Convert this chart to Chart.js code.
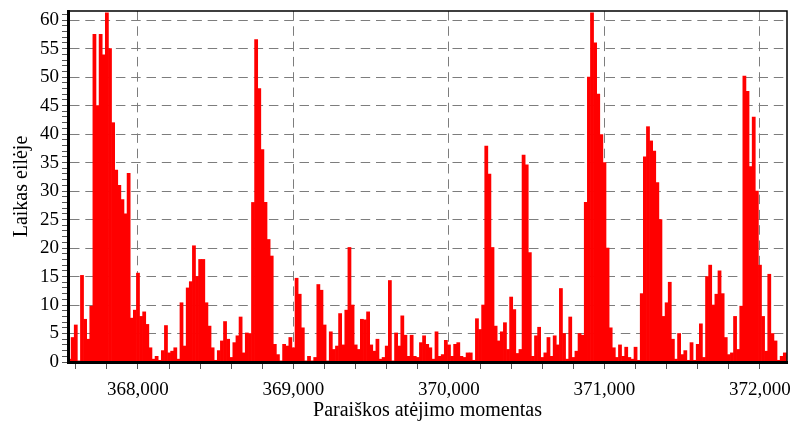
<!DOCTYPE html>
<html>
<head>
<meta charset="utf-8">
<script src="https://cdn.jsdelivr.net/npm/chart.js@4.4.1/dist/chart.umd.min.js"></script>
<style>
  html, body { margin: 0; padding: 0; background: #ffffff; }
  #wrap { width: 794px; height: 423px; }
</style>
</head>
<body>
<div id="wrap"><canvas id="c" width="794" height="423"></canvas></div>
<script>
// Arrival moments (x, centre of each bar)
const arrivalMoments = [
  367560,367580,367600,367620,367640,367660,367680,367700,367720,367740,
  367760,367780,367800,367820,367840,367860,367880,367900,367920,367940,
  367960,367980,368000,368020,368040,368060,368080,368100,368120,368140,
  368160,368180,368200,368220,368240,368260,368280,368300,368320,368340,
  368360,368380,368400,368420,368440,368460,368480,368500,368520,368540,
  368560,368580,368600,368620,368640,368660,368680,368700,368720,368740,
  368760,368780,368800,368820,368840,368860,368880,368900,368920,368940,
  368960,368980,369000,369020,369040,369060,369080,369100,369120,369140,
  369160,369180,369200,369220,369240,369260,369280,369300,369320,369340,
  369360,369380,369400,369420,369440,369460,369480,369500,369520,369540,
  369560,369580,369600,369620,369640,369660,369680,369700,369720,369740,
  369760,369780,369800,369820,369840,369860,369880,369900,369920,369940,
  369960,369980,370000,370020,370040,370060,370080,370100,370120,370140,
  370160,370180,370200,370220,370240,370260,370280,370300,370320,370340,
  370360,370380,370400,370420,370440,370460,370480,370500,370520,370540,
  370560,370580,370600,370620,370640,370660,370680,370700,370720,370740,
  370760,370780,370800,370820,370840,370860,370880,370900,370920,370940,
  370960,370980,371000,371020,371040,371060,371080,371100,371120,371140,
  371160,371180,371200,371220,371240,371260,371280,371300,371320,371340,
  371360,371380,371400,371420,371440,371460,371480,371500,371520,371540,
  371560,371580,371600,371620,371640,371660,371680,371700,371720,371740,
  371760,371780,371800,371820,371840,371860,371880,371900,371920,371940,
  371960,371980,372000,372020,372040,372060,372080,372100,372120,372140,
  372160
];

// Time in queue (y)
const queueTime = [
  0.5,4.3,6.5,0.2,15.2,7.5,4.0,9.8,57.5,45,
  57.5,53.9,61.3,55,42,33.7,31,28.5,26,33.1,
  7.7,9.1,15.6,8,8.8,6.6,2.5,0.5,1.0,0.3,
  2,6.4,1.6,1.9,2.5,0.5,10.4,2.8,13.0,14.1,
  20.4,15,18.0,18,10.4,6.3,2.5,0.3,2,3.7,
  7.1,4,0.8,3.4,4.6,7.9,1.6,5.1,5,28.0,
  56.6,48,37.3,28,21.5,18.6,3.1,1.3,0.2,3.1,
  2.8,4.3,2.5,14.7,11.9,6.0,0.2,1.0,0.2,0.8,
  13.6,12.6,6.5,0.2,5.3,2.2,2.8,8.5,3,9.1,
  20.1,10,3,2.2,7.5,7.4,8.8,3,1.9,4.0,
  0.5,0.8,2.8,14.3,0.2,5.1,2.8,8.1,4.7,1.0,
  4.7,1.0,0.8,3.4,4.6,3.1,2.5,0.5,5.3,1.0,
  1.3,3.8,3,1.0,3.1,3.4,1,0.8,1.6,1.6,
  0.3,7.6,5.7,10,37.9,33,20.1,6.3,3.7,5.3,
  6.9,2.2,11.4,9.2,1.5,2.2,36.3,34.6,19.2,1.0,
  4.6,6.1,0.8,1.6,4.3,1.0,4.6,3,12.9,5,
  0.5,7.9,0.8,1.9,5,4.7,28,50,61.3,56,
  47,39.9,35,20,6,2.5,0.8,3,1.0,2.6,
  0.8,0.5,2.6,0.3,12,36,41.3,38.8,37,31.5,
  25,8,10.4,14,4,0.5,5,1.3,2,0.3,
  3.4,0.3,3.1,6.7,0.8,15,17,10,11.9,16,
  12,4.3,1.3,1.6,8,2.2,9.8,50.2,47.5,34.3,
  43,30,17,8,1.9,15.4,5,3.7,0.3,1.0,
  1.6
];

const xMajorTicks = [368000, 369000, 370000, 371000, 372000];
const yMajorTicks = [0, 5, 10, 15, 20, 25, 30, 35, 40, 45, 50, 55, 60];
const xTitle = 'Paraiškos atėjimo momentas';
const yTitle = 'Laikas eilėje';

const points = arrivalMoments.map((x, i) => ({ x: x, y: queueTime[i] }));

const SERIF = "'Liberation Serif', 'Times New Roman', serif";
const GRID = '#7d7d7d';
const findMajor = (list, v) => list.find(m => Math.abs(m - v) < 1e-3);

const framePlugin = {
  id: 'frame',
  afterDraw(chart) {
    const { ctx, chartArea: a } = chart;
    ctx.save();
    ctx.strokeStyle = '#000';
    ctx.lineWidth = 1.5;
    ctx.beginPath();
    ctx.moveTo(a.left, a.top);
    ctx.lineTo(a.right, a.top);
    ctx.lineTo(a.right, a.bottom);
    ctx.stroke();
    ctx.restore();
  }
};

new Chart(document.getElementById('c'), {
  type: 'bar',
  data: {
    datasets: [{
      data: points,
      backgroundColor: '#ff0000',
      borderWidth: 0,
      barPercentage: 1,
      categoryPercentage: 1
    }]
  },
  options: {
    responsive: false,
    animation: false,
    layout: { padding: { top: 11, right: 7, left: 0, bottom: 0 } },
    plugins: { legend: { display: false }, tooltip: { enabled: false } },
    scales: {
      x: {
        type: 'linear',
        min: 367550,
        max: 372174,
        offset: false,
        afterFit(scale) {
          scale.height = 61;
          scale.paddingLeft = 0;
          scale.paddingRight = 0;
        },
        afterBuildTicks(scale) {
          // minor ticks every 200, major (labelled) every 1000
          const t = [];
          for (let v = 367600; v <= scale.max; v += 200) t.push({ value: v });
          scale.ticks = t;
        },
        grid: {
          offset: false,
          color: c => (c.tick && findMajor(xMajorTicks, c.tick.value) !== undefined) ? GRID : 'rgba(0,0,0,0)',
          lineWidth: 1,
          tickColor: '#555',
          tickLength: 7,
          tickWidth: 1
        },
        border: { display: true, color: '#000', width: 3, dash: [9.5, 5.8], z: 1 },
        ticks: {
          autoSkip: false,
          maxRotation: 0,
          minRotation: 0,
          padding: 10,
          color: '#000',
          font: { family: SERIF, size: 19 },
          callback: v => {
            const m = findMajor(xMajorTicks, v);
            return m !== undefined ? m.toLocaleString('en-US') : '';
          }
        },
        title: {
          display: true,
          text: xTitle,
          color: '#000',
          font: { family: SERIF, size: 20 },
          padding: { top: 0, bottom: 0 }
        }
      },
      y: {
        min: 0,
        max: 61.6,
        afterFit(scale) {
          scale.width = 68;
          scale.paddingTop = 0;
          scale.paddingBottom = 0;
        },
        grid: {
          color: c => (c.tick && findMajor(yMajorTicks, c.tick.value) !== undefined) ? GRID : 'rgba(0,0,0,0)',
          lineWidth: 1,
          tickColor: '#555',
          tickLength: 6,
          tickWidth: 1
        },
        border: { display: true, color: '#000', width: 3, dash: [9.5, 5.8], z: 1 },
        ticks: {
          stepSize: 1,
          autoSkip: false,
          includeBounds: false,
          padding: 3,
          color: '#000',
          font: { family: SERIF, size: 19 },
          callback: v => {
            const m = findMajor(yMajorTicks, v);
            return m !== undefined ? String(m) : '';
          }
        },
        title: {
          display: true,
          text: yTitle,
          color: '#000',
          font: { family: SERIF, size: 20 },
          padding: { top: 10, bottom: 0 }
        }
      }
    }
  },
  plugins: [framePlugin]
});
</script>
</body>
</html>
